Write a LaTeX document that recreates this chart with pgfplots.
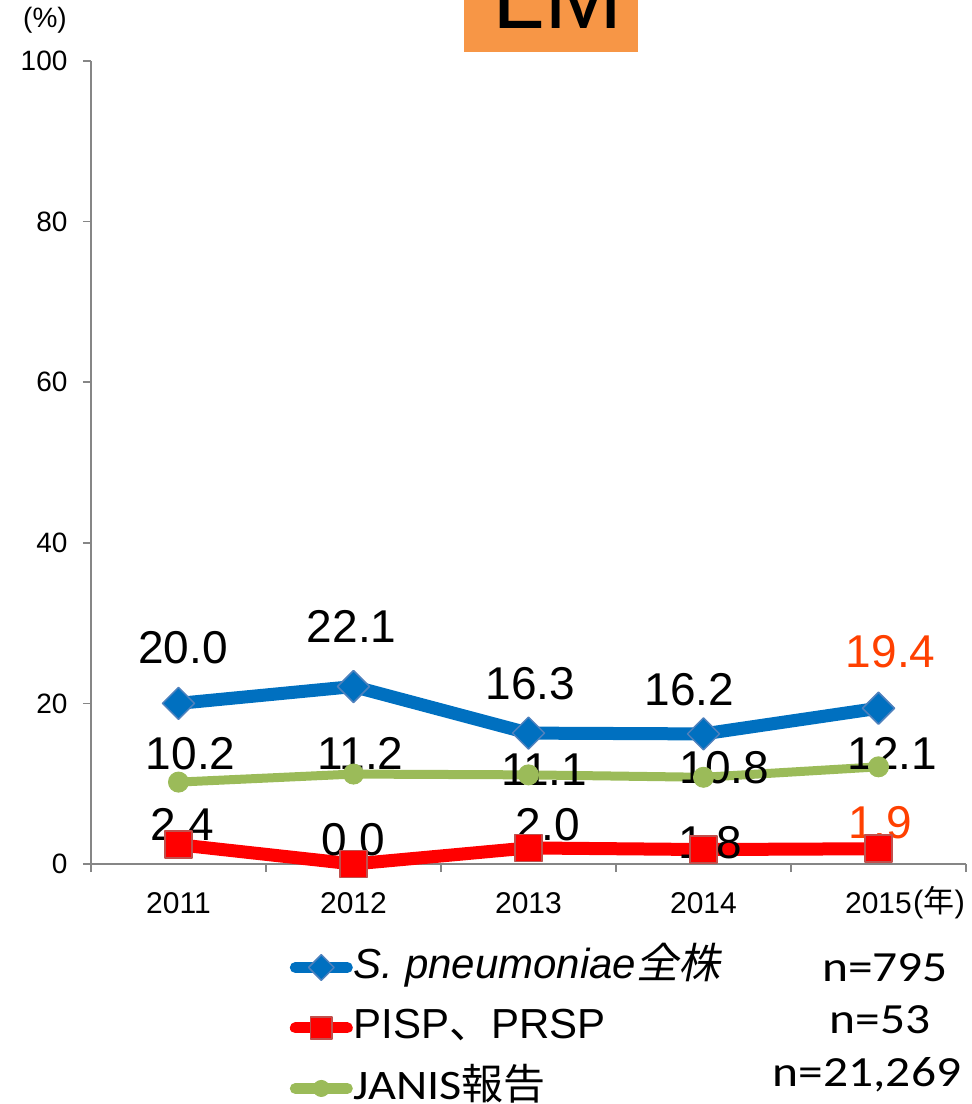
\documentclass[border=0pt]{standalone}
\usepackage{fontspec}
\setmainfont{Liberation Sans}
\newfontfamily\cjk{Noto Sans CJK JP}
\newfontfamily\cjkit{Noto Sans CJK JP}[FakeSlant=0.2]
\newfontfamily\calfont{Carlito}[FakeStretch=1.15]
\usepackage{pgfplots}
\pgfplotsset{compat=1.18}
\definecolor{cblue}{HTML}{0070C0}
\definecolor{cbluedk}{HTML}{4F81BD}
\definecolor{cred}{HTML}{FF0000}
\definecolor{credk}{HTML}{C0504D}
\definecolor{cgreen}{HTML}{9BBB59}
\definecolor{corange}{HTML}{F79646}
\definecolor{clab}{RGB}{255,64,0}
\definecolor{axgray}{HTML}{868686}
\begin{document}
\begin{tikzpicture}
\useasboundingbox (0pt,0pt) rectangle (972pt,1104pt);
\clip (0pt,0pt) rectangle (972pt,1104pt);
\fill[corange] (464pt,1052pt) rectangle (638pt,1110pt);
\node[anchor=base, font=\fontsize{94}{94}\selectfont, inner sep=0pt] at (557.5pt,1075pt) {LM};
\begin{axis}[
  at={(91pt,240pt)}, anchor=south west,
  width=875pt, height=803pt, scale only axis,
  xmin=0.5, xmax=5.5, ymin=0, ymax=100, clip=false,
  axis x line*=bottom, axis y line*=left,
  axis line style={draw=axgray, line width=1.5pt},
  xtick={0.5,1.5,2.5,3.5,4.5,5.5},
  x tick label as interval,
  xticklabels={2011,2012,2013,2014,2015},
  ytick={0,20,40,60,80,100},
  tick align=outside, major tick length=8pt,
  tick style={draw=axgray, line width=1.5pt},
  xticklabel style={font=\fontsize{30}{30}\selectfont, yshift=-17pt},
  yticklabel style={font=\fontsize{28}{28}\selectfont, xshift=-12pt},
  /pgf/number format/assume math mode=true,
  legend style={at={(axis description cs:0.227,-0.1037)}, anchor=north west,
    draw=none, fill=none, inner sep=0pt, row sep=20.5pt,
    font=\fontsize{42}{42}\selectfont,
    nodes={inner sep=1pt, text height=30pt, text depth=8pt}},
  legend cell align=left,
  legend image code/.code={\draw[mark repeat=2,mark phase=2,#1, line width=11pt, line cap=round, every mark/.append style={scale=0.8}] plot coordinates {(0pt,0pt)(26pt,0pt)(52pt,0pt)};},
]
\addplot[cblue, line width=13pt, line join=round, mark=diamond*, mark size=16pt,
  mark options={fill=cblue, draw=cbluedk, line width=1.5pt, xscale=1.333}]
  coordinates {(1,20.0) (2,22.1) (3,16.3) (4,16.2) (5,19.4)};
\addlegendentry{\textit{S. pneumoniae}{\cjkit 全株}}
\addplot[cred, line width=13pt, line join=round, mark=square*, mark size=13.5pt,
  mark options={fill=cred, draw=credk, line width=1.5pt}]
  coordinates {(1,2.4) (2,0.0) (3,2.0) (4,1.8) (5,1.9)};
\addlegendentry{PISP{\cjk 、}PRSP}
\addplot[cgreen, line width=9pt, line join=round, mark=*, mark size=10pt,
  mark options={fill=cgreen, draw=cgreen, line width=1pt}]
  coordinates {(1,10.2) (2,11.2) (3,11.1) (4,10.8) (5,12.1)};
\addlegendentry{{\calfont JANIS}{\cjk 報告}}
\begin{scope}[every node/.style={font=\fontsize{46}{46}\selectfont, inner sep=0pt}]
\node at (axis cs:1.026,26.9) {20.0};
\node at (axis cs:1.99,29.6) {22.1};
\node at (axis cs:3.01,22.4) {16.3};
\node at (axis cs:3.92,21.7) {16.2};
\node[text=clab] at (axis cs:5.07,26.4) {19.4};
\node at (axis cs:1.07,13.8) {10.2};
\node at (axis cs:2.04,13.8) {11.2};
\node at (axis cs:3.09,11.7) {11.1};
\node at (axis cs:4.12,12.0) {10.8};
\node at (axis cs:5.08,13.8) {12.1};
\node at (axis cs:1.02,4.9) {2.4};
\node at (axis cs:2.0,3.0) {0.0};
\node at (axis cs:3.11,4.9) {2.0};
\node at (axis cs:4.04,2.6) {1.8};
\node[text=clab] at (axis cs:5.01,5.1) {1.9};
\end{scope}
\end{axis}
\node[anchor=west, font=\fontsize{31}{31}\selectfont, inner sep=0pt] at (913pt,201pt) {({\cjk 年})};
\node[font=\fontsize{28}{28}\selectfont, inner sep=0pt] at (45pt,1084pt) {(\%)};
\begin{scope}[every node/.style={font=\calfont\fontsize{43}{43}\selectfont, inner sep=0pt, anchor=base}]
\node at (885pt,122pt) {n=795};
\node at (880pt,70pt) {n=53};
\node at (867pt,17pt) {n=21,269};
\end{scope}
\end{tikzpicture}
\end{document}
